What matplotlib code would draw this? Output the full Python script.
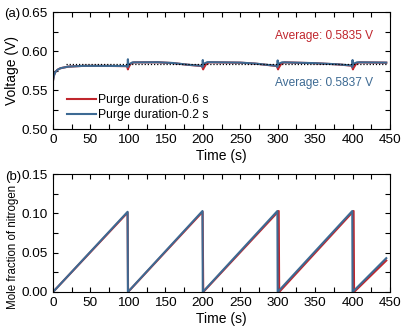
import numpy as np
import matplotlib
matplotlib.use("Agg")
import matplotlib.pyplot as plt
from matplotlib.ticker import MultipleLocator

plt.rcParams['font.family'] = ['Liberation Sans', 'DejaVu Sans']

RED = '#c0262d'
BLUE = '#3d6a93'

# (a) cell voltage, purge duration 0.2 s (blue) and 0.6 s (red)
t_v_blue = [0, 1, 3, 6, 10, 20, 40, 70, 99, 99.5, 100, 100.5, 102, 106, 140, 160, 180, 199,
            199.5, 200, 200.5, 202, 206, 250, 270, 299, 299.5, 300, 300.5, 302, 306, 350,
            380, 399, 399.5, 400, 400.5, 402, 406, 445]
v_blue = [0.562, 0.568, 0.573, 0.576, 0.578, 0.580, 0.581, 0.581, 0.5808, 0.5795, 0.5895,
          0.582, 0.583, 0.5855, 0.5857, 0.5847, 0.5825, 0.581,
          0.5795, 0.5885, 0.582, 0.584, 0.5858, 0.5852, 0.584, 0.581,
          0.5795, 0.588, 0.582, 0.584, 0.5856, 0.5845,
          0.583, 0.5815, 0.5795, 0.5885, 0.582, 0.584, 0.5856, 0.5852]
t_v_red = [0, 1, 3, 6, 10, 20, 40, 70, 99, 100, 100.6, 102, 104, 108, 140, 160, 180, 199,
           200.5, 201.2, 203, 205, 209, 250, 270, 299, 300.5, 301.2, 303, 305, 309, 350,
           380, 399, 400.5, 401.2, 403, 405, 409, 445]
v_red = [0.562, 0.568, 0.573, 0.576, 0.578, 0.580, 0.581, 0.581, 0.5806, 0.5765, 0.5785,
         0.581, 0.584, 0.5855, 0.5856, 0.5846, 0.5824, 0.5808,
         0.5765, 0.5782, 0.581, 0.584, 0.5856, 0.5851, 0.5839, 0.5808,
         0.5765, 0.5782, 0.581, 0.584, 0.5855, 0.5844,
         0.5829, 0.5813, 0.5765, 0.5782, 0.581, 0.584, 0.5855, 0.5851]
v_average = 0.5836
t_average = [18, 446]

# (b) mole fraction of nitrogen
t_n_blue = [0, 99.6, 100, 199.6, 200, 299.6, 300, 399.6, 400, 445]
n_blue = [0, 0.102, 0, 0.103, 0, 0.103, 0, 0.103, 0, 0.043]
t_n_red = [0, 99.6, 100.2, 199.8, 200.6, 301.4, 302, 401.4, 402, 445]
n_red = [0, 0.101, 0, 0.102, 0, 0.103, 0, 0.103, 0, 0.040]

fig = plt.figure(figsize=(4.19, 3.36), dpi=100)
ax1 = fig.add_axes([0.1265, 0.616, 0.8043, 0.348])
ax2 = fig.add_axes([0.1265, 0.131, 0.8043, 0.351])

ax1.plot(t_v_red, v_red, color=RED, lw=1.5, label='Purge duration-0.6 s')
ax1.plot(t_v_blue, v_blue, color=BLUE, lw=1.5, label='Purge duration-0.2 s')
ax1.plot(t_average, [v_average, v_average], color='black', lw=0.9, ls=(0, (1, 1.5)))
ax1.set_xlim(0, 450)
ax1.set_ylim(0.50, 0.65)
ax1.yaxis.set_major_locator(MultipleLocator(0.05))
ax1.yaxis.set_minor_locator(MultipleLocator(0.025))
ax1.set_ylabel('Voltage (V)', fontsize=10)
ax1.yaxis.set_label_coords(-0.10, 0.5)
ax1.text(296, 0.6192, 'Average: 0.5835 V', color=RED, fontsize=8.6, va='center')
ax1.text(296, 0.559, 'Average: 0.5837 V', color=BLUE, fontsize=8.6, va='center')
ax1.legend(loc='lower left', bbox_to_anchor=(0.042, 0.07), frameon=False, fontsize=8.7,
           handlelength=2.4, handletextpad=0.15, labelspacing=0.2, borderpad=0,
           borderaxespad=0)

ax2.plot(t_n_red, n_red, color=RED, lw=1.5)
ax2.plot(t_n_blue, n_blue, color=BLUE, lw=1.5)
ax2.set_xlim(0, 450)
ax2.set_ylim(0, 0.15)
ax2.yaxis.set_major_locator(MultipleLocator(0.05))
ax2.yaxis.set_minor_locator(MultipleLocator(0.025))
ax2.set_ylabel('Mole fraction of nitrogen', fontsize=8.3)
ax2.yaxis.set_label_coords(-0.10, 0.385)

for ax in (ax1, ax2):
    ax.xaxis.set_major_locator(MultipleLocator(50))
    ax.xaxis.set_minor_locator(MultipleLocator(25))
    ax.tick_params(which='both', direction='in', top=True, right=True, labelsize=9.7,
                   width=0.8)
    ax.tick_params(which='major', length=3.5, pad=3.5)
    ax.tick_params(which='minor', length=3.5)
    ax.set_xlabel('Time (s)', fontsize=10, labelpad=2)
    ax.yaxis.set_major_formatter(matplotlib.ticker.FormatStrFormatter('%.2f'))
    for s in ax.spines.values():
        s.set_linewidth(0.8)

fig.text(4 / 419, 1 - 14 / 336, '(a)', fontsize=9.5, va='center', ha='left')
fig.text(5 / 419, 1 - 177 / 336, '(b)', fontsize=9.5, va='center', ha='left')

fig.savefig('out.png', dpi=100)
